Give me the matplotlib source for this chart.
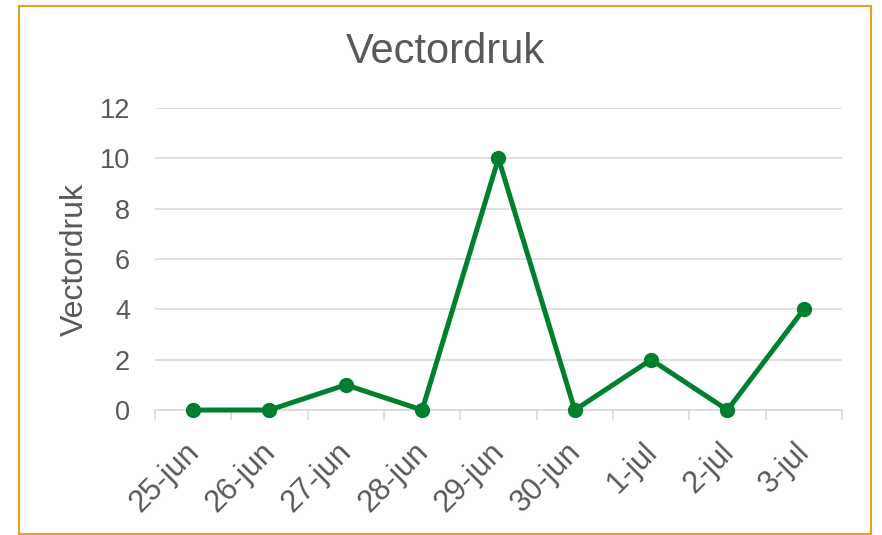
import matplotlib.pyplot as plt
from matplotlib.patches import Rectangle
from matplotlib.transforms import ScaledTranslation

dates = ['25-jun', '26-jun', '27-jun', '28-jun', '29-jun', '30-jun', '1-jul', '2-jul', '3-jul']
vectordruk = [0, 0, 1, 0, 10, 0, 2, 0, 4]

plt.rcParams['font.family'] = ['Liberation Sans', 'DejaVu Sans']
grey = '#595959'

fig = plt.figure(figsize=(8.82, 5.35), dpi=100)
ax = fig.add_axes([0.1757, 0.2336, 0.7789, 0.5645])

x = list(range(len(dates)))
ax.plot(x, vectordruk, color='#00802F', linewidth=3.6, marker='o', markersize=10,
        zorder=3, clip_on=False)

ax.set_xlim(-0.5, len(dates) - 0.5)
ax.set_ylim(0, 12)
ax.set_yticks([0, 2, 4, 6, 8, 10, 12])
ax.grid(axis='y', color='#D9D9D9', linewidth=1.2)
ax.set_axisbelow(True)

ax.set_xticks(x)
ax.set_xticklabels(dates, rotation=45, ha='right', rotation_mode='anchor')
ax.set_xticks([i - 0.5 for i in range(len(dates) + 1)], minor=True)
ax.tick_params(axis='x', which='major', length=0, pad=18, labelsize=22, labelcolor=grey)
ax.tick_params(axis='x', which='minor', length=7, width=1.2, color='#D9D9D9')
ax.tick_params(axis='y', length=0, pad=18, labelsize=19.5, labelcolor=grey)

# nudge the rotated labels a bit to the left
shift = ScaledTranslation(-0.09, -0.02, fig.dpi_scale_trans)
for lab in ax.get_xticklabels():
    lab.set_transform(lab.get_transform() + shift)

for s in ['top', 'right', 'left']:
    ax.spines[s].set_visible(False)
ax.spines['bottom'].set_color('#D9D9D9')
ax.spines['bottom'].set_linewidth(1.2)

ax.set_ylabel('Vectordruk', fontsize=23, color=grey)
ax.yaxis.set_label_coords(-0.095, 0.5)

fig.text(445 / 882, 1 - 52 / 535, 'Vectordruk', fontsize=30, color=grey, ha='center', va='center')

fig.patches.append(Rectangle((19 / 882, 1 / 535), 852 / 882, 528 / 535, transform=fig.transFigure,
                             fill=False, edgecolor='#E5A21E', linewidth=1.5))

fig.savefig('out.png', dpi=100, facecolor='white')
